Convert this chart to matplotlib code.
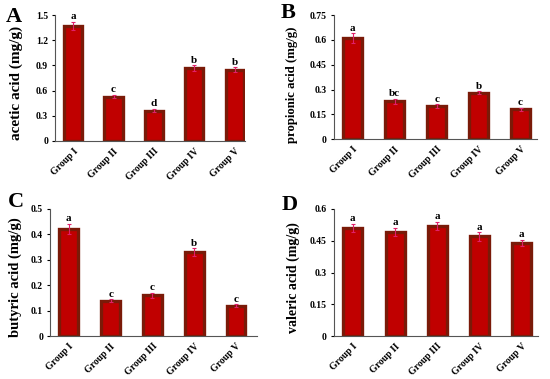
import matplotlib

matplotlib.use("Agg")
import matplotlib.pyplot as plt  # noqa: E402

groups = ["Group I", "Group II", "Group III", "Group IV", "Group V"]

acetic = [1.37, 0.53, 0.36, 0.87, 0.85]
acetic_err = [0.05, 0.02, 0.02, 0.03, 0.03]
acetic_sig = ["a", "c", "d", "b", "b"]

propionic = [0.61, 0.23, 0.20, 0.28, 0.18]
propionic_err = [0.03, 0.015, 0.01, 0.01, 0.01]
propionic_sig = ["a", "bc", "c", "b", "c"]

butyric = [0.42, 0.14, 0.16, 0.33, 0.12]
butyric_err = [0.02, 0.005, 0.01, 0.015, 0.005]
butyric_sig = ["a", "c", "c", "b", "c"]

valeric = [0.51, 0.49, 0.52, 0.47, 0.44]
valeric_err = [0.02, 0.02, 0.02, 0.02, 0.015]
valeric_sig = ["a", "a", "a", "a", "a"]

plt.rcParams["font.family"] = ["Liberation Serif", "DejaVu Serif"]
plt.rcParams["font.weight"] = "bold"

FILL = "#c00000"
EDGE = "#7a1a08"


def panel(fig, rect, vals, errs, sig, ylabel, ymax, step, letter, lpos, xmax,
          lab_x, lab_y, lab_size):
    ax = fig.add_axes(rect)
    x = range(len(groups))
    ax.bar(x, vals, 0.45, color=FILL, edgecolor=EDGE, linewidth=2.4,
           yerr=errs, error_kw=dict(ecolor="#e0206a", elinewidth=0.8,
                                    capsize=1.5, capthick=0.8))
    for i, (v, e, s) in enumerate(zip(vals, errs, sig)):
        ax.text(i, v + e + ymax * 0.005, s, ha="center", va="bottom",
                fontsize=8, fontweight="bold")
    ax.set_xlim(-0.45, xmax)
    ax.set_ylim(0, ymax)
    ticks = [round(k * step, 2) for k in range(int(round(ymax / step)) + 1)]
    ax.set_yticks(ticks)
    ax.set_yticklabels([("%g" % t) for t in ticks], fontsize=7,
                       fontweight="bold")
    ax.set_xticks(list(x))
    ax.set_xticklabels(groups, rotation=45, ha="right", rotation_mode="anchor",
                       fontsize=7, fontweight="bold")
    ax.tick_params(axis="x", length=0, pad=4)
    ax.tick_params(axis="y", length=2, width=0.8, pad=3)
    ax.spines["top"].set_visible(False)
    ax.spines["right"].set_visible(False)
    for sp in ("left", "bottom"):
        ax.spines[sp].set_color("#555555")
        ax.spines[sp].set_linewidth(0.8)
    ax.set_ylabel(ylabel, fontsize=lab_size, fontweight="bold")
    ax.yaxis.set_label_coords(lab_x, lab_y)
    fig.text(lpos[0], lpos[1], letter, fontsize=16, fontweight="bold",
             ha="left", va="center")
    return ax


fig = plt.figure(figsize=(5.5, 3.79), dpi=100)

panel(fig, [0.100, 0.628, 0.345, 0.332], acetic, acetic_err, acetic_sig,
      "acetic acid (mg/g)", 1.5, 0.3, "A", (0.010, 0.955), 4.25, -0.168,
      0.46, 11)
panel(fig, [0.607, 0.633, 0.370, 0.327], propionic, propionic_err,
      propionic_sig, "propionic acid (mg/g)", 0.75, 0.15, "B", (0.510, 0.966),
      4.4, -0.177, 0.44, 9.2)
panel(fig, [0.091, 0.113, 0.376, 0.336], butyric, butyric_err, butyric_sig,
      "butyric acid (mg/g)", 0.5, 0.1, "C", (0.014, 0.467), 4.5, -0.135,
      0.46, 10.5)
panel(fig, [0.607, 0.113, 0.372, 0.336], valeric, valeric_err, valeric_sig,
      "valeric acid (mg/g)", 0.6, 0.15, "D", (0.512, 0.460), 4.4, -0.167,
      0.46, 10)

fig.savefig("out.png", dpi=100)
